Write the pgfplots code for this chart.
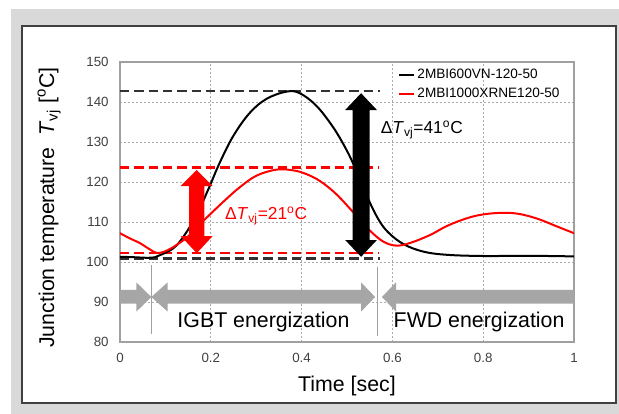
\documentclass[border=0pt]{standalone}
\usepackage{fontspec}
\setmainfont{Liberation Sans}
\usepackage{pgfplots}
\pgfplotsset{compat=1.18}
\definecolor{tickgray}{RGB}{64,64,64}
\definecolor{framegray}{RGB}{160,160,160}
\definecolor{gridgray}{RGB}{170,170,170}
\definecolor{bandgray}{RGB}{166,166,166}
\definecolor{bggray}{RGB}{217,217,217}
\definecolor{panelborder}{RGB}{64,64,64}
\definecolor{dashblack}{RGB}{50,50,50}

\begin{document}
\begin{tikzpicture}
\path[use as bounding box] (-90pt,-54pt) rectangle (374.25pt,256.5pt);
\fill[bggray] (-81.75pt,-54pt) rectangle (374.25pt,249.75pt);
\filldraw[fill=white, draw=panelborder, line width=0.8pt] (-73.5pt,-45.75pt) rectangle (372pt,237pt);
\begin{axis}[
    at={(0,0)}, anchor=south west,
    scale only axis,
    width=340.5pt, height=210pt,
    xmin=0, xmax=1, ymin=80, ymax=150,
    xtick={0,0.2,0.4,0.6,0.8,1},
    xticklabels={0,0.2,0.4,0.6,0.8,1},
    ytick={80,90,100,110,120,130,140,150},
    grid=major,
    major grid style={gridgray, line width=0.6pt, dash pattern=on 1.5pt off 1.5pt},
    axis line style={framegray, line width=0.8pt},
    major tick length=0pt,
    /pgf/number format/assume math mode=true,
    tick label style={font=\fontsize{10}{12}\selectfont, text=tickgray},
    yticklabel style={xshift=-5pt},
    xticklabel style={yshift=-5pt},
    xlabel={Time [sec]},
    xlabel style={font=\fontsize{16}{19}\selectfont, at={(axis description cs:0.5,-0.157)}, anchor=center},
    ylabel={Junction temperature\ \ \textit{T}\textsubscript{vj} [\textsuperscript{o}C]},
    ylabel style={font=\fontsize{16}{19}\selectfont, at={(axis description cs:-0.156,0.48)}, anchor=center},
    legend style={draw=none, fill=none, at={(rel axis cs:0.612,0.985)}, anchor=north west,
        font=\fontsize{10.2}{12}\selectfont, row sep=1.5pt, inner sep=0pt, cells={anchor=west}},
    legend image code/.code={\draw[#1] (0pt,0pt) -- (11pt,0pt);},
]

% reference levels
\addplot[dashblack, line width=1.7pt, dash pattern=on 7pt off 3.75pt, forget plot] coordinates {(0,142.75) (0.573,142.75)};
\addplot[dashblack, line width=1.7pt, dash pattern=on 7pt off 3.75pt, forget plot] coordinates {(0,100.9) (0.573,100.9)};
\addplot[red, line width=1.7pt, dash pattern=on 7pt off 3.75pt, forget plot] coordinates {(0,123.6) (0.571,123.6)};
\addplot[red, line width=1.7pt, dash pattern=on 7pt off 3.75pt, forget plot] coordinates {(0,102.2) (0.571,102.2)};

% 2MBI600VN-120-50
\addplot[black, line width=1.5pt, smooth, tension=0.6] coordinates {
(0,101.3) (0.03,101.2) (0.06,101.05) (0.077,101.2) (0.09,101.8) (0.117,103.4)
(0.139,106.2) (0.169,111.8) (0.195,118.3) (0.22,124.9) (0.25,131.6) (0.286,137.3)
(0.323,140.8) (0.367,142.6) (0.396,142.2) (0.433,139.0) (0.47,133.6) (0.499,128.0)
(0.52,123.0) (0.545,116.2) (0.568,110.9) (0.59,107.5) (0.624,104.5) (0.668,102.6) (0.72,101.8)
(0.8,101.5) (0.9,101.55) (1,101.4)};
\addlegendentry{2MBI600VN-120-50}

% 2MBI1000XRNE120-50
\addplot[red, line width=1.5pt, smooth, tension=0.6] coordinates {
(0,107.2) (0.02,106.0) (0.044,104.7) (0.065,103.2) (0.08,102.3) (0.095,102.5)
(0.117,103.7) (0.147,106.1) (0.17,108.7) (0.191,111.1) (0.228,115.1) (0.264,118.7)
(0.301,121.6) (0.345,123.1) (0.382,122.9) (0.41,122.0) (0.441,120.2) (0.477,116.9)
(0.518,111.9) (0.55,107.9) (0.58,105.1) (0.609,104.1) (0.64,104.8) (0.683,106.75)
(0.72,109.0) (0.763,110.9) (0.8,111.9) (0.844,112.3) (0.88,112.0) (0.92,110.8)
(0.96,109.0) (1,107.2)};
\addlegendentry{2MBI1000XRNE120-50}

% delta arrows
\fill[red] (axis cs:0.169,123) -- (axis cs:0.2042,119) -- (axis cs:0.1859,119)
  -- (axis cs:0.1859,106.5) -- (axis cs:0.2042,106.5) -- (axis cs:0.169,102.2)
  -- (axis cs:0.1338,106.5) -- (axis cs:0.1521,106.5) -- (axis cs:0.1521,119)
  -- (axis cs:0.1338,119) -- cycle;
\fill[black] (axis cs:0.531,142.2) -- (axis cs:0.566,138) -- (axis cs:0.5496,138)
  -- (axis cs:0.5496,105.5) -- (axis cs:0.566,105.5) -- (axis cs:0.531,101.3)
  -- (axis cs:0.496,105.5) -- (axis cs:0.5124,105.5) -- (axis cs:0.5124,138)
  -- (axis cs:0.496,138) -- cycle;
\node[anchor=base west, inner sep=0pt, font=\fontsize{13}{15}\selectfont] at (axis cs:0.574,132.2)
  {Δ\textit{T}\textsubscript{vj}=41\textsuperscript{o}C};
\node[anchor=base west, inner sep=0pt, text=red, font=\fontsize{13}{15}\selectfont] at (axis cs:0.231,110.7)
  {Δ\textit{T}\textsubscript{vj}=21\textsuperscript{o}C};

% energization bands
\fill[bandgray] (axis cs:0,89.6) -- (axis cs:0.036,89.6) -- (axis cs:0.036,87.6) -- (axis cs:0.069,91.25)
  -- (axis cs:0.036,94.9) -- (axis cs:0.036,93.0) -- (axis cs:0,93.0) -- cycle;
\fill[bandgray] (axis cs:0.069,91.25) -- (axis cs:0.105,87.6) -- (axis cs:0.105,89.6) -- (axis cs:0.531,89.6)
  -- (axis cs:0.531,87.6) -- (axis cs:0.562,91.25) -- (axis cs:0.531,94.9) -- (axis cs:0.531,93.0)
  -- (axis cs:0.105,93.0) -- (axis cs:0.105,94.9) -- cycle;
\fill[bandgray] (axis cs:0.577,91.25) -- (axis cs:0.608,87.6) -- (axis cs:0.608,89.6) -- (axis cs:1,89.6)
  -- (axis cs:1,93.0) -- (axis cs:0.608,93.0) -- (axis cs:0.608,94.9) -- cycle;
\draw[framegray, line width=1.1pt] (axis cs:0.069,82) -- (axis cs:0.069,99.2);
\draw[framegray, line width=1.1pt] (axis cs:0.567,81.6) -- (axis cs:0.567,98.8);
\node[anchor=base, font=\fontsize{16}{19}\selectfont] at (axis cs:0.316,83.5) {IGBT energization};
\node[anchor=base, font=\fontsize{16}{19}\selectfont] at (axis cs:0.791,83.5) {FWD energization};

\end{axis}
\end{tikzpicture}
\end{document}
